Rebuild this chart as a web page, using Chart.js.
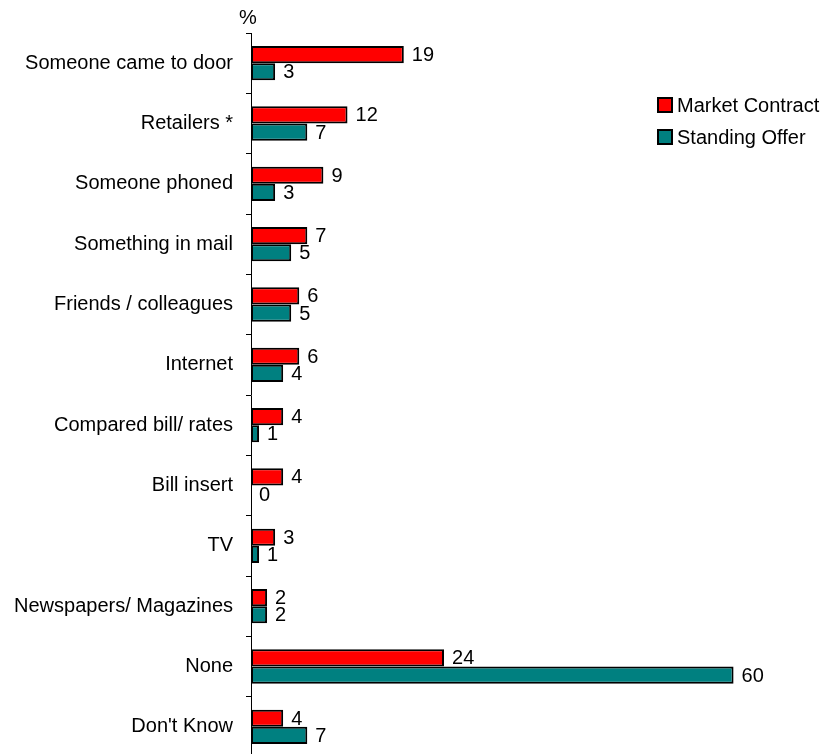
<!DOCTYPE html>
<html>
<head>
<meta charset="utf-8">
<script src="https://cdn.jsdelivr.net/npm/chart.js@4/dist/chart.umd.min.js"></script>
<style>
  html, body { margin: 0; padding: 0; background: #fff; overflow: hidden; }
  #wrap { width: 824px; height: 754px; position: relative; overflow: hidden; }
  canvas { display: block; }
</style>
</head>
<body>
<div id="wrap"><canvas id="c" width="824" height="782"></canvas></div>
<script>
// Sources of information about electricity offers, % of respondents
const categories = [
  'Someone came to door', 'Retailers *', 'Someone phoned', 'Something in mail',
  'Friends / colleagues', 'Internet', 'Compared bill/ rates', 'Bill insert',
  'TV', 'Newspapers/ Magazines', 'None', "Don't Know"
];
const marketContract = [19, 12, 9, 7, 6, 6, 4, 4, 3, 2, 24, 4];
const standingOffer  = [3, 7, 3, 5, 5, 4, 1, 0, 1, 2, 60, 7];
const seriesNames = ['Market Contract', 'Standing Offer'];
const seriesColors = ['#FF0000', '#008080'];

const FONT = '"Liberation Sans", Arial, sans-serif';

// Value labels at the end of each bar, plus the % unit and the legend
const annotate = {
  id: 'annotate',
  afterDatasetsDraw(chart) {
    const ctx = chart.ctx;
    ctx.save();
    ctx.fillStyle = '#000';
    ctx.font = '20px ' + FONT;
    ctx.textBaseline = 'middle';
    ctx.textAlign = 'left';
    chart.data.datasets.forEach((ds, di) => {
      chart.getDatasetMeta(di).data.forEach((bar, i) => {
        ctx.fillText(String(ds.data[i]), bar.x + 8, bar.y + 1);
      });
    });
    // unit
    ctx.textAlign = 'center';
    ctx.fillText('%', 248, 18);
    // legend
    ctx.textAlign = 'left';
    seriesNames.forEach((name, k) => {
      const y = 105 + k * 32;
      ctx.fillStyle = seriesColors[k];
      ctx.fillRect(658, y - 7, 14, 14);
      ctx.lineWidth = 2;
      ctx.strokeStyle = '#000';
      ctx.strokeRect(658, y - 7, 14, 14);
      ctx.fillStyle = '#000';
      ctx.fillText(name, 677, y + 1);
    });
    ctx.restore();
  }
};

new Chart(document.getElementById('c'), {
  type: 'bar',
  data: {
    labels: categories,
    datasets: [
      { label: seriesNames[0], data: marketContract, backgroundColor: seriesColors[0],
        borderColor: '#000', borderWidth: 2, borderSkipped: false },
      { label: seriesNames[1], data: standingOffer, backgroundColor: seriesColors[1],
        borderColor: '#000', borderWidth: 2, borderSkipped: false }
    ]
  },
  options: {
    indexAxis: 'y',
    responsive: false,
    animation: false,
    categoryPercentage: 0.57,
    barPercentage: 1,
    layout: { padding: { left: 0, right: 10, top: 33, bottom: 0 } },
    plugins: { legend: { display: false }, tooltip: { enabled: false } },
    scales: {
      x: { display: false, min: 0, max: 70 },
      y: {
        afterFit(scale) { scale.width = 251; },
        border: { display: true, color: '#000', width: 1 },
        grid: { offset: true, drawOnChartArea: false, drawTicks: true, tickLength: 5, color: '#000' },
        ticks: { color: '#000', font: { family: FONT, size: 20 }, padding: 13, autoSkip: false }
      }
    }
  },
  plugins: [annotate]
});
</script>
</body>
</html>
